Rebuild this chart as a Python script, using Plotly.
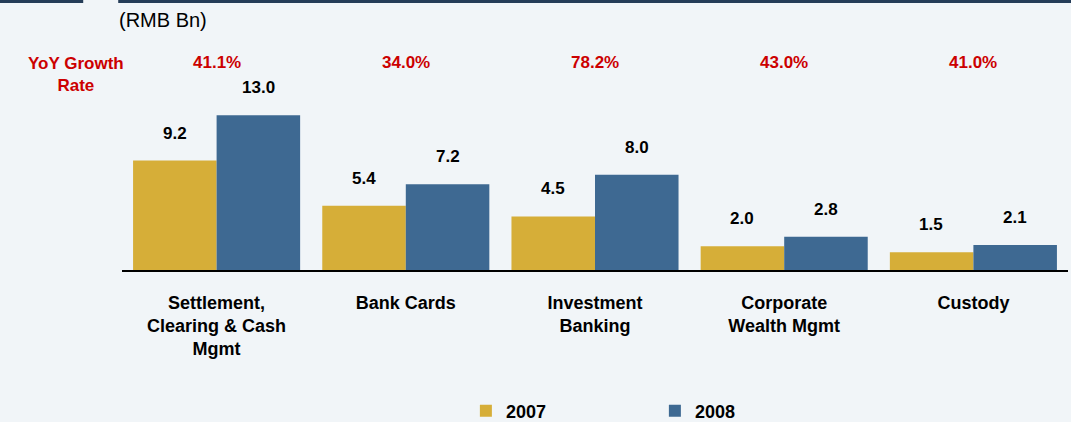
import plotly.graph_objects as go

# data
categories = ["Settlement,<br>Clearing & Cash<br>Mgmt", "Bank Cards",
              "Investment<br>Banking", "Corporate<br>Wealth Mgmt", "Custody"]
values_2007 = [9.2, 5.4, 4.5, 2.0, 1.5]
values_2008 = [13.0, 7.2, 8.0, 2.8, 2.1]
growth = ["41.1%", "34.0%", "78.2%", "43.0%", "41.0%"]

FONT = "Arial, Liberation Sans, sans-serif"
GOLD = "#d6ae38"
BLUE = "#3e6992"
RED = "#cc0000"

fig = go.Figure()
fig.add_trace(go.Bar(x=categories, y=values_2007, name="2007",
                     marker=dict(color=GOLD, line=dict(width=0))))
fig.add_trace(go.Bar(x=categories, y=values_2008, name="2008",
                     marker=dict(color=BLUE, line=dict(width=0))))

# value labels above bars (offset to each bar of the pair)
for vals, shift in ((values_2007, -42), (values_2008, 42)):
    for c, v in zip(categories, vals):
        fig.add_annotation(x=c, y=v, text=f"<b>{v:.1f}</b>", showarrow=False,
                           xshift=shift, yshift=16, yanchor="bottom",
                           font=dict(family=FONT, size=17, color="black"))

# growth rates row
for c, g in zip(categories, growth):
    fig.add_annotation(x=c, y=0.904, yref="paper", text=f"<b>{g}</b>",
                       showarrow=False, xanchor="center", yanchor="middle",
                       font=dict(family=FONT, size=17, color=RED))

fig.add_annotation(x=-0.0486, y=0.848, xref="paper", yref="paper",
                   xanchor="center", yanchor="middle",
                   text="<b>YoY Growth<br>Rate</b>", showarrow=False,
                   font=dict(family=FONT, size=17, color=RED))
fig.add_annotation(x=-0.005, y=1.087, xref="paper", yref="paper",
                   xanchor="left", yanchor="middle",
                   text="(RMB Bn)", showarrow=False,
                   font=dict(family=FONT, size=20, color="black"))

# dark strip along the top edge
for x0, x1 in ((-0.13, -0.041), (-0.004, 1.01)):
    fig.add_shape(type="rect", xref="paper", yref="paper", x0=x0, x1=x1,
                  y0=1.161, y1=1.18, fillcolor="#253d58", line_width=0)

fig.update_layout(
    width=1071, height=422,
    margin=dict(l=122, r=3, t=40, b=152),
    barmode="group", bargap=0.117, bargroupgap=0,
    paper_bgcolor="#f1f5f8", plot_bgcolor="rgba(0,0,0,0)",
    font=dict(family=FONT, color="black"),
    xaxis=dict(range=[-0.5, 4.5], showline=True, linecolor="black", linewidth=2,
               ticks="outside", ticklen=15, tickcolor="rgba(0,0,0,0)",
               tickfont=dict(family=FONT, size=18, weight="bold"), showgrid=False),
    yaxis=dict(range=[0, 19.33], visible=False),
    legend=dict(orientation="h", xref="container", yref="container",
                x=0.435, y=0.026, xanchor="left", yanchor="middle",
                entrywidth=144, entrywidthmode="pixels",
                font=dict(family=FONT, size=18, weight="bold"),
                bgcolor="rgba(0,0,0,0)"),
)

fig.write_html("out.html", config={"displayModeBar": False},
               post_script="document.body.style.margin='0';")
